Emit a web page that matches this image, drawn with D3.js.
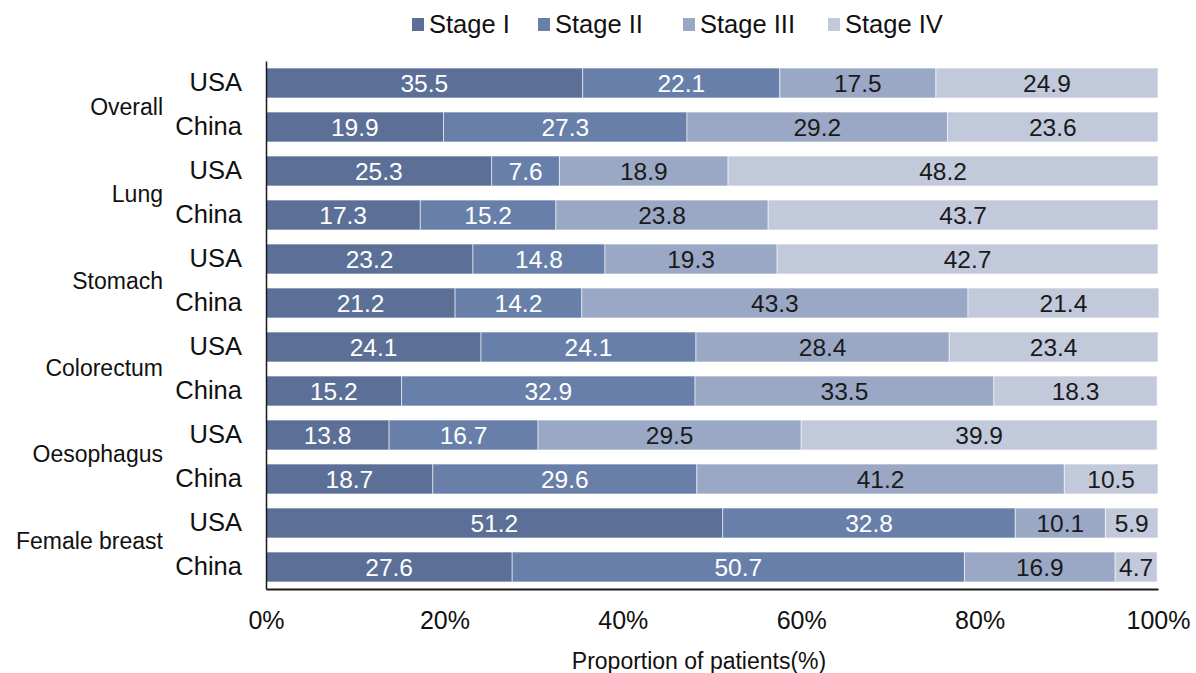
<!DOCTYPE html>
<html>
<head>
<meta charset="utf-8">
<script src="https://cdn.jsdelivr.net/npm/d3@7"></script>
<style>
  html, body { margin: 0; padding: 0; background: #fff; }
  svg { display: block; font-family: "Liberation Sans", Arial, sans-serif; }
</style>
</head>
<body>
<svg id="chart" width="1196" height="673"></svg>
<script>
// Cancer sites, each with a USA and a China row
const sites = ["Overall", "Lung", "Stomach", "Colorectum", "Oesophagus", "Female breast"];
const countries = ["USA", "China"];
const stages = ["Stage I", "Stage II", "Stage III", "Stage IV"];

// Stage distribution (%) per row, in order: site x country
const stageI   = [35.5, 19.9, 25.3, 17.3, 23.2, 21.2, 24.1, 15.2, 13.8, 18.7, 51.2, 27.6];
const stageII  = [22.1, 27.3,  7.6, 15.2, 14.8, 14.2, 24.1, 32.9, 16.7, 29.6, 32.8, 50.7];
const stageIII = [17.5, 29.2, 18.9, 23.8, 19.3, 43.3, 28.4, 33.5, 29.5, 41.2, 10.1, 16.9];
const stageIV  = [24.9, 23.6, 48.2, 43.7, 42.7, 21.4, 23.4, 18.3, 39.9, 10.5,  5.9,  4.7];

const xTicks = [0, 20, 40, 60, 80, 100];
const xTitle = "Proportion of patients(%)";

const colors = ["#5b6f97", "#687faa", "#9aa8c5", "#c2c9db"];
const labelColors = ["#ffffff", "#ffffff", "#1a1a1a", "#1a1a1a"];

// Build row table
const rows = [];
sites.forEach((s, i) => {
  countries.forEach((c, j) => {
    const k = i * 2 + j;
    rows.push({ id: s + "|" + c, site: s, country: c,
      "Stage I": stageI[k], "Stage II": stageII[k], "Stage III": stageIII[k], "Stage IV": stageIV[k] });
  });
});

const svg = d3.select("#chart");
const plotLeft = 266, plotRight = 1158, plotTop = 61, plotBottom = 589;

const x = d3.scaleLinear().domain([0, 100]).range([plotLeft, plotRight]);
const y = d3.scaleBand().domain(rows.map(r => r.id)).range([plotTop, plotBottom])
  .paddingInner(0.32).paddingOuter(0.16);
const color = d3.scaleOrdinal().domain(stages).range(colors);
// Site labels sit in their own evenly spaced column
const ySite = d3.scalePoint().domain(sites).range([107, 541]);

const series = d3.stack().keys(stages)(rows);

// Bars with value labels
const g = svg.append("g");
series.forEach((ser, si) => {
  g.selectAll(null).data(ser).enter().append("rect")
    .attr("x", d => x(d[0]))
    .attr("y", d => y(d.data.id))
    .attr("width", d => x(d[1]) - x(d[0]))
    .attr("height", y.bandwidth())
    .attr("fill", color(ser.key))
    .attr("stroke", "rgba(255,255,255,0.55)")
    .attr("stroke-width", 1);
  g.selectAll(null).data(ser).enter().append("text")
    .attr("x", d => (x(d[0]) + x(d[1])) / 2)
    .attr("y", d => y(d.data.id) + y.bandwidth() / 2)
    .attr("dy", "0.36em")
    .attr("text-anchor", "middle")
    .attr("font-size", 24.5)
    .attr("fill", labelColors[si])
    .text(d => d3.format(".1f")(d[1] - d[0]));
});

// Axes
const xAxis = d3.axisBottom(x).tickValues(xTicks).tickFormat(d => d + "%").tickSize(0).tickPadding(22);
const gx = svg.append("g").attr("transform", `translate(0,${plotBottom})`).call(xAxis);
gx.select(".domain").attr("stroke", "#1a1a1a").attr("stroke-width", 2);
gx.selectAll("text").attr("font-size", 25).attr("fill", "#111").attr("font-family", "Liberation Sans, Arial, sans-serif");

const yAxis = d3.axisLeft(y).tickFormat(id => id.split("|")[1]).tickSize(0).tickPadding(24);
const gy = svg.append("g").attr("transform", `translate(${plotLeft},0)`).call(yAxis);
gy.select(".domain").attr("stroke", "#1a1a1a").attr("stroke-width", 1.5);
gy.selectAll("text").attr("font-size", 25.5).attr("fill", "#111").attr("font-family", "Liberation Sans, Arial, sans-serif");

// Site group labels
svg.append("g").selectAll("text").data(sites).enter().append("text")
  .attr("x", 163)
  .attr("y", s => ySite(s))
  .attr("dy", "0.36em")
  .attr("text-anchor", "end")
  .attr("font-size", 23)
  .attr("fill", "#111")
  .text(s => s);

// X axis title
svg.append("text")
  .attr("x", 699)
  .attr("y", 661)
  .attr("dy", "0.36em")
  .attr("text-anchor", "middle")
  .attr("font-size", 23)
  .attr("fill", "#111")
  .text(xTitle);

// Legend
const legendX = [412, 538, 683, 828];
const lg = svg.append("g").selectAll("g").data(stages).enter().append("g")
  .attr("transform", (d, i) => `translate(${legendX[i]},24)`);
lg.append("rect").attr("x", 0).attr("y", -6).attr("width", 12).attr("height", 13).attr("fill", d => color(d));
lg.append("text").attr("x", 17).attr("dy", "0.36em").attr("font-size", 25.5).attr("fill", "#111").text(d => d);
</script>
</body>
</html>
